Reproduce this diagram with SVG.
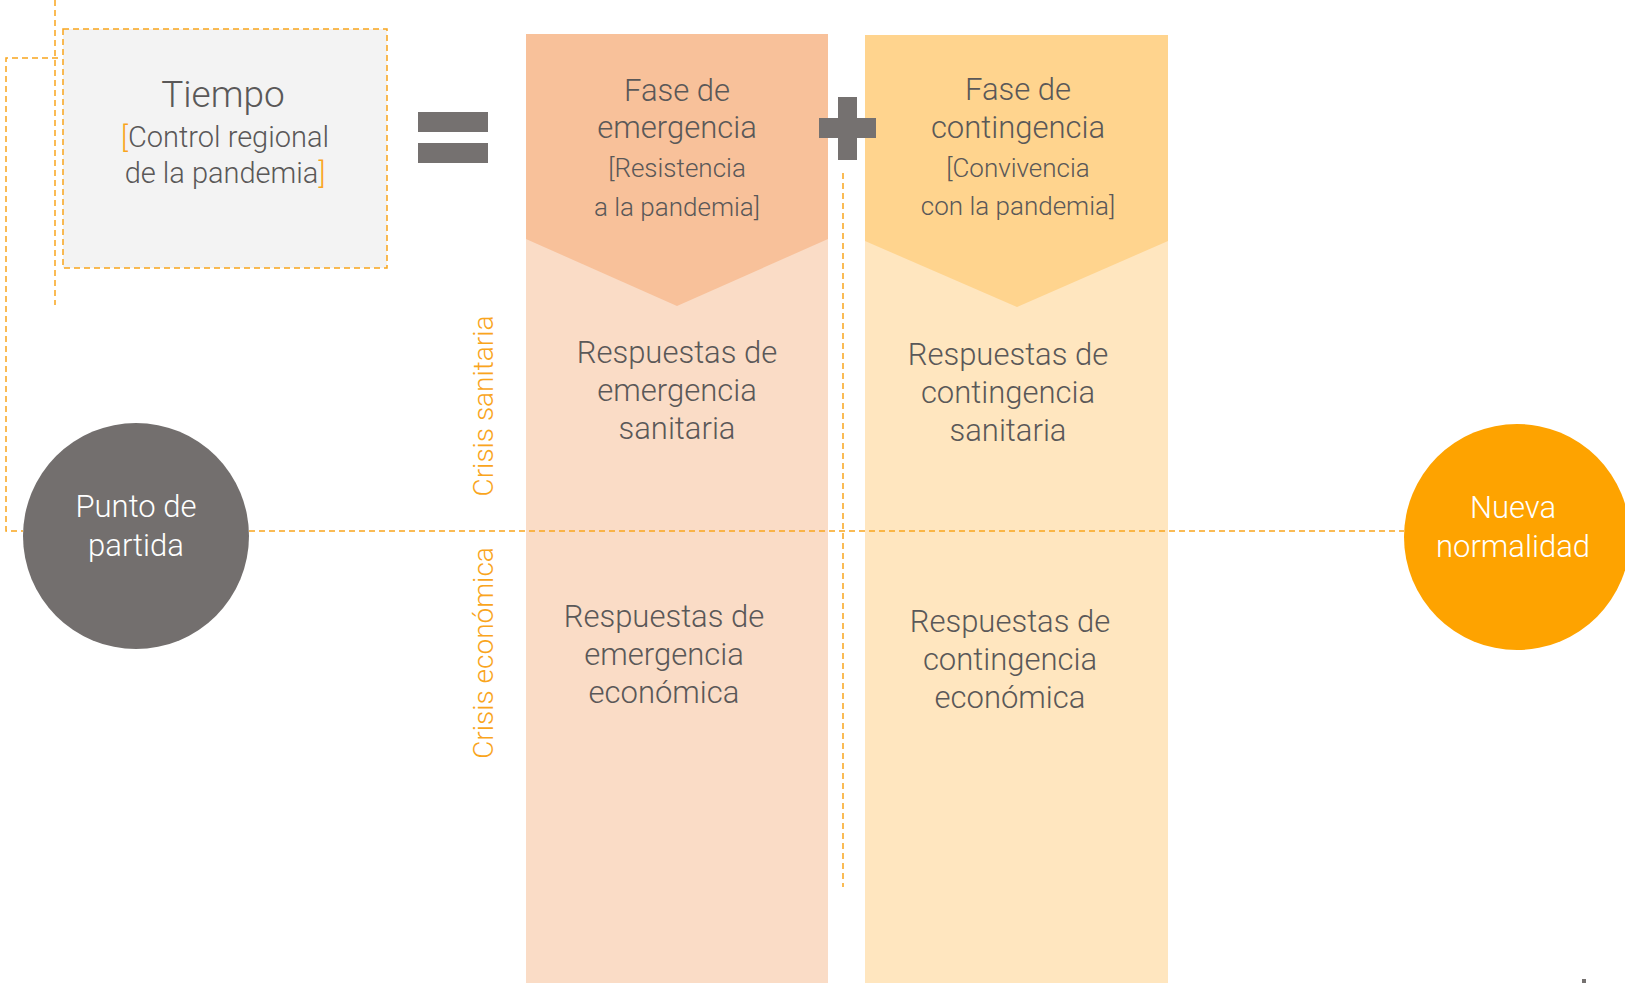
<svg xmlns="http://www.w3.org/2000/svg" width="1625" height="983" viewBox="0 0 1625 983">
<style>
.t{font-family:Roboto,"Liberation Sans",Arial,sans-serif;font-weight:300;fill:#5a5858;text-anchor:middle}
.w{font-family:Roboto,"Liberation Sans",Arial,sans-serif;font-weight:300;fill:#ffffff;text-anchor:middle;font-size:31px}
.o{font-family:Roboto,"Liberation Sans",Arial,sans-serif;font-weight:300;fill:#f9a51d;text-anchor:middle;font-size:28px}
.ob{fill:#f9a51d}
.d{fill:none;stroke:#f9a51d;stroke-width:1.5;stroke-dasharray:6 4}
.g{fill:#757170}
</style>
<rect width="1625" height="983" fill="#ffffff"/>
<g id="emergencia">
<rect x="526" y="34" width="302" height="949" fill="#fadcc6"/>
<polygon points="526,34 828,34 828,239 677,306 526,239" fill="#f8c19a"/>
<text class="t" x="677" y="101" font-size="31">Fase de</text>
<text class="t" x="677" y="138" font-size="31">emergencia</text>
<text class="t" x="677" y="177" font-size="26">[Resistencia</text>
<text class="t" x="677" y="216" font-size="26">a la pandemia]</text>
<text class="t" x="677" y="363" font-size="31">Respuestas de</text>
<text class="t" x="677" y="401" font-size="31">emergencia</text>
<text class="t" x="677" y="439" font-size="31">sanitaria</text>
<text class="t" x="664" y="627" font-size="31">Respuestas de</text>
<text class="t" x="664" y="665" font-size="31">emergencia</text>
<text class="t" x="664" y="703" font-size="31">económica</text>
</g>
<g id="contingencia">
<rect x="865" y="35" width="303" height="948" fill="#ffe6bf"/>
<polygon points="865,35 1168,35 1168,241 1017,307 865,241" fill="#ffd48e"/>
<text class="t" x="1018" y="100" font-size="31">Fase de</text>
<text class="t" x="1018" y="138" font-size="31">contingencia</text>
<text class="t" x="1018" y="177" font-size="26">[Convivencia</text>
<text class="t" x="1018" y="215" font-size="26">con la pandemia]</text>
<text class="t" x="1008" y="365" font-size="31">Respuestas de</text>
<text class="t" x="1008" y="403" font-size="31">contingencia</text>
<text class="t" x="1008" y="441" font-size="31">sanitaria</text>
<text class="t" x="1010" y="632" font-size="31">Respuestas de</text>
<text class="t" x="1010" y="670" font-size="31">contingencia</text>
<text class="t" x="1010" y="708" font-size="31">económica</text>
</g>
<g id="connectors">
<polyline class="d" points="55,0 55,305"/>
<polyline class="d" points="58,58 6,58 6,531 23,531"/>
<line class="d" x1="249" y1="531" x2="1404" y2="531"/>
<line class="d" x1="843" y1="173" x2="843" y2="887"/>
</g>
<g id="tiempo">
<rect x="63" y="29" width="324" height="239" class="d" style="fill:#f3f3f3"/>
<text class="t" x="223" y="107" font-size="37">Tiempo</text>
<text class="t" x="225" y="147" font-size="29"><tspan class="ob">[</tspan>Control regional</text>
<text class="t" x="225" y="183" font-size="29">de la pandemia<tspan class="ob">]</tspan></text>
</g>
<g id="igual">
<rect class="g" x="418" y="112" width="70" height="20"/>
<rect class="g" x="418" y="143" width="70" height="20"/>
</g>
<g id="mas">
<rect class="g" x="838" y="97" width="19" height="63"/>
<rect class="g" x="819" y="118" width="57" height="20"/>
</g>
<g id="crisis-sanitaria">
<text class="o" transform="translate(493,406) rotate(-90)">Crisis sanitaria</text>
</g>
<g id="crisis-economica">
<text class="o" transform="translate(493,653) rotate(-90)">Crisis económica</text>
</g>
<g id="punto-de-partida">
<circle cx="136" cy="536" r="113" fill="#736f6e"/>
<text class="w" x="136" y="517">Punto de</text>
<text class="w" x="136" y="556">partida</text>
</g>
<g id="nueva-normalidad">
<circle cx="1517" cy="537" r="113" fill="#fea300"/>
<text class="w" x="1513" y="518">Nueva</text>
<text class="w" x="1513" y="557">normalidad</text>
</g>
<rect x="1582" y="979" width="4" height="4" fill="#757170"/>
</svg>
